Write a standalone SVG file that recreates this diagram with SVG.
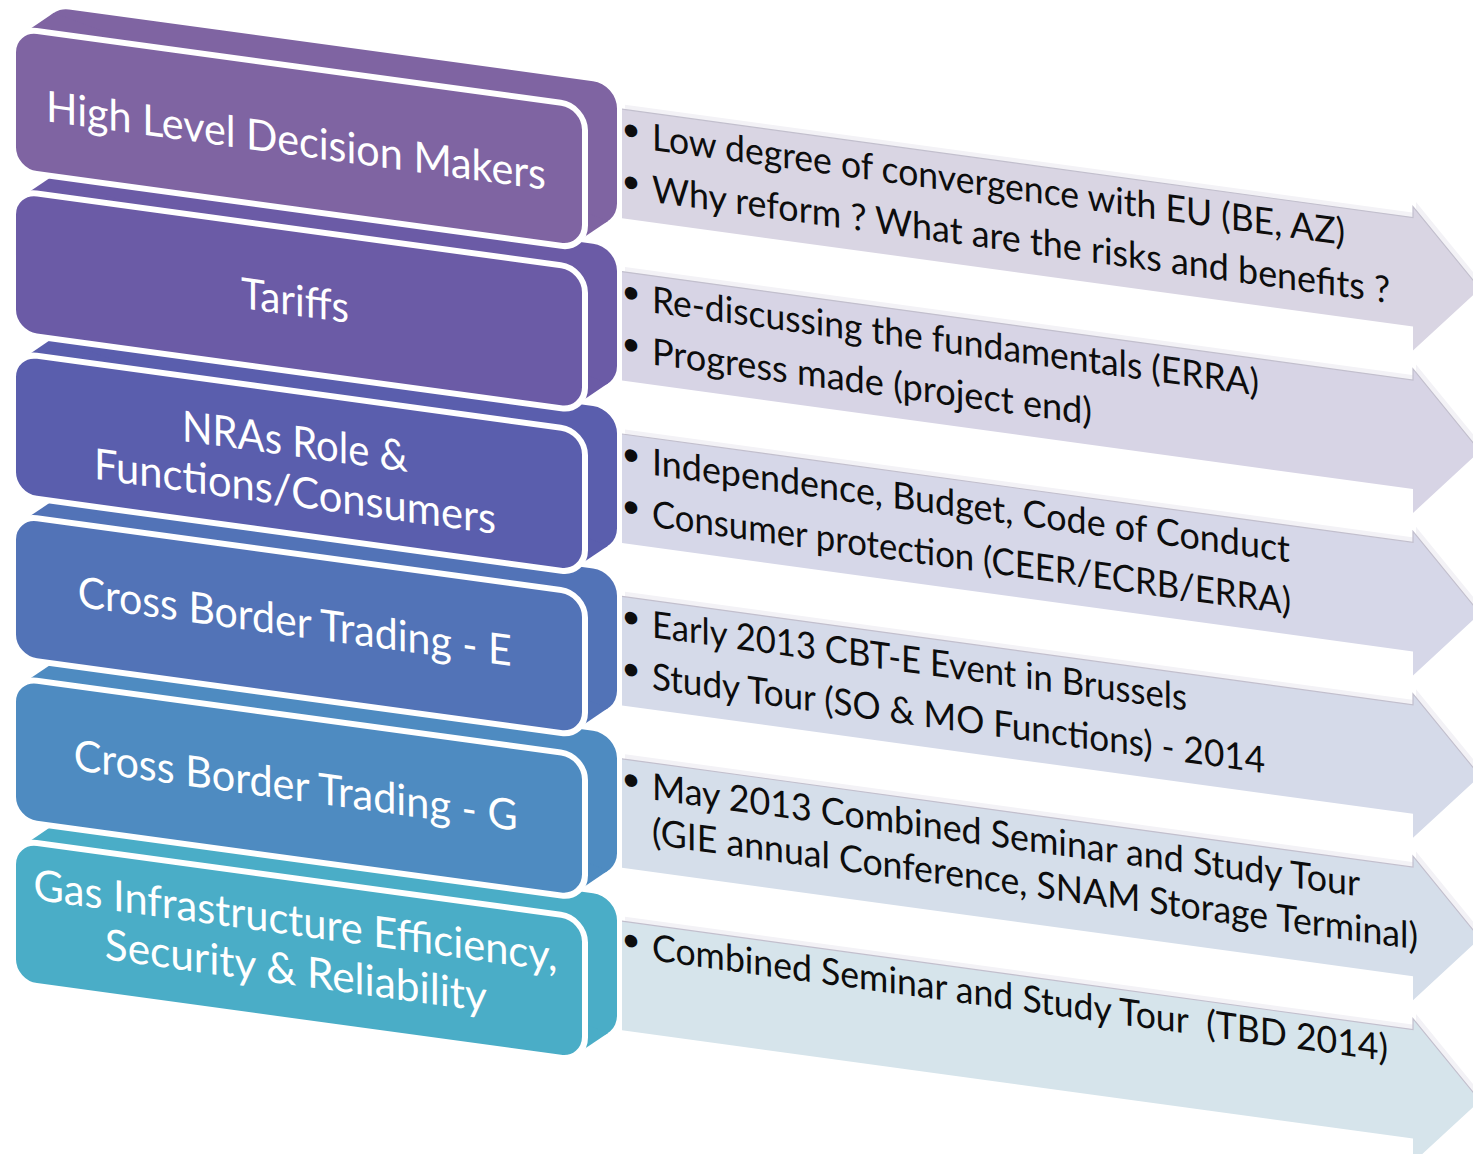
<svg xmlns="http://www.w3.org/2000/svg" xmlns:xlink="http://www.w3.org/1999/xlink" width="1473" height="1154" viewBox="0 0 1473 1154">
<style>
.bt{font-family:Lato,"Open Sans","Liberation Sans",sans-serif;font-size:43px;fill:#ffffff;text-anchor:middle}
.at{font-family:Lato,"Open Sans","Liberation Sans",sans-serif;font-size:37px;fill:#0d0d0d}
.bu{font-family:"Liberation Sans",Arial,sans-serif;font-size:46px;fill:#0d0d0d;text-anchor:middle}
.ff{stroke:#ffffff;stroke-width:6}
.hl{fill:#F3F2F6}
.edge{fill:none;stroke:#C2BFCD;stroke-width:1.2}
.c1{fill:#7F64A2}.c2{fill:#6B5BA6}.c3{fill:#5A5EAD}.c4{fill:#5273B7}.c5{fill:#4E8BC1}.c6{fill:#4AADC7}
.a1{fill:#D9D5E3}.a2{fill:#D7D4E5}.a3{fill:#D6D7E8}.a4{fill:#D5DAE9}.a5{fill:#D5DEEA}.a6{fill:#D6E4EB}
</style>
<defs>
<path id="arr" d="M622,24 H1413 V13 L1480,86 L1413,157 V133 H622Z"/>
<path id="arrEdge" d="M622,24 H1413 V13 L1480,86"/>
</defs>
<rect x="0" y="0" width="1473" height="1154" fill="#ffffff"/>
<g transform="matrix(1,0.137,0,1,0,0)">
  <g id="arrow1">
    <use xlink:href="#arr" class="hl" transform="translate(3,-5)"/>
    <use xlink:href="#arr" class="a1"/>
    <use xlink:href="#arrEdge" class="edge"/>
    <text class="bu" x="631" y="59.7">•</text>
    <text class="at" x="652" y="60.7" textLength="693" lengthAdjust="spacingAndGlyphs">Low degree of convergence with EU (BE, AZ)</text>
    <text class="bu" x="631" y="111.7">•</text>
    <text class="at" x="652" y="112.7" textLength="738" lengthAdjust="spacingAndGlyphs">Why reform ? What are the risks and benefits ?</text>
  </g>
  <g id="arrow2">
    <use xlink:href="#arr" class="hl" transform="translate(3,157.4)"/>
    <use xlink:href="#arr" class="a2" transform="translate(0,162.4)"/>
    <use xlink:href="#arrEdge" class="edge" transform="translate(0,162.4)"/>
    <text class="bu" x="631" y="222.1">•</text>
    <text class="at" x="652" y="223.1" textLength="607" lengthAdjust="spacingAndGlyphs">Re-discussing the fundamentals (ERRA)</text>
    <text class="bu" x="631" y="274.1">•</text>
    <text class="at" x="652" y="275.1" textLength="440" lengthAdjust="spacingAndGlyphs">Progress made (project end)</text>
  </g>
  <g id="arrow3">
    <use xlink:href="#arr" class="hl" transform="translate(3,319.8)"/>
    <use xlink:href="#arr" class="a3" transform="translate(0,324.8)"/>
    <use xlink:href="#arrEdge" class="edge" transform="translate(0,324.8)"/>
    <text class="bu" x="631" y="384.5">•</text>
    <text class="at" x="652" y="385.5" textLength="638" lengthAdjust="spacingAndGlyphs">Independence, Budget, Code of Conduct</text>
    <text class="bu" x="631" y="436.5">•</text>
    <text class="at" x="652" y="437.5" textLength="639" lengthAdjust="spacingAndGlyphs">Consumer protection (CEER/ECRB/ERRA)</text>
  </g>
  <g id="arrow4">
    <use xlink:href="#arr" class="hl" transform="translate(3,482.2)"/>
    <use xlink:href="#arr" class="a4" transform="translate(0,487.2)"/>
    <use xlink:href="#arrEdge" class="edge" transform="translate(0,487.2)"/>
    <text class="bu" x="631" y="546.9">•</text>
    <text class="at" x="652" y="547.9" textLength="535" lengthAdjust="spacingAndGlyphs">Early 2013 CBT-E Event in Brussels</text>
    <text class="bu" x="631" y="598.9">•</text>
    <text class="at" x="652" y="599.9" textLength="613" lengthAdjust="spacingAndGlyphs">Study Tour (SO &amp; MO Functions) - 2014</text>
  </g>
  <g id="arrow5">
    <use xlink:href="#arr" class="hl" transform="translate(3,644.6)"/>
    <use xlink:href="#arr" class="a5" transform="translate(0,649.6)"/>
    <use xlink:href="#arrEdge" class="edge" transform="translate(0,649.6)"/>
    <text class="bu" x="631" y="709.3">•</text>
    <text class="at" x="652" y="710.3" textLength="708" lengthAdjust="spacingAndGlyphs">May 2013 Combined Seminar and Study Tour</text>
    <text class="at" x="652" y="755.3" textLength="766" lengthAdjust="spacingAndGlyphs">(GIE annual Conference, SNAM Storage Terminal)</text>
  </g>
  <g id="arrow6">
    <use xlink:href="#arr" class="hl" transform="translate(3,807)"/>
    <use xlink:href="#arr" class="a6" transform="translate(0,812)"/>
    <use xlink:href="#arrEdge" class="edge" transform="translate(0,812)"/>
    <text class="bu" x="631" y="870">•</text>
    <text class="at" x="652" y="871" textLength="736" lengthAdjust="spacingAndGlyphs" xml:space="preserve">Combined Seminar and Study Tour  (TBD 2014)</text>
  </g>

  <g id="block6" class="c6">
    <rect x="45" y="812" width="572" height="143" rx="24"/>
    <polygon points="21.9,843.4 53.9,817.4 608.1,949.6 576.1,975.6"/>
    <rect class="ff" x="13" y="838" width="572" height="143" rx="24"/>
    <text class="bt" x="295.5" y="895" textLength="524" lengthAdjust="spacingAndGlyphs">Gas Infrastructure Efficiency,</text>
    <text class="bt" x="295.8" y="945" textLength="382" lengthAdjust="spacingAndGlyphs">Security &amp; Reliability</text>
  </g>
  <g id="block5" class="c5">
    <rect x="45" y="649.6" width="572" height="143" rx="24"/>
    <polygon points="21.9,681 53.9,655 608.1,787.2 576.1,813.2"/>
    <rect class="ff" x="13" y="675.6" width="572" height="143" rx="24"/>
    <text class="bt" x="295.7" y="760" textLength="444" lengthAdjust="spacingAndGlyphs">Cross Border Trading - G</text>
  </g>
  <g id="block4" class="c4">
    <rect x="45" y="487.2" width="572" height="143" rx="24"/>
    <polygon points="21.9,518.6 53.9,492.6 608.1,624.8 576.1,650.8"/>
    <rect class="ff" x="13" y="513.2" width="572" height="143" rx="24"/>
    <text class="bt" x="294.7" y="596" textLength="434" lengthAdjust="spacingAndGlyphs">Cross Border Trading - E</text>
  </g>
  <g id="block3" class="c3">
    <rect x="45" y="324.8" width="572" height="143" rx="24"/>
    <polygon points="21.9,356.2 53.9,330.2 608.1,462.4 576.1,488.4"/>
    <rect class="ff" x="13" y="350.8" width="572" height="143" rx="24"/>
    <text class="bt" x="295" y="416" textLength="226" lengthAdjust="spacingAndGlyphs">NRAs Role &amp;</text>
    <text class="bt" x="295" y="466" textLength="402" lengthAdjust="spacingAndGlyphs">Functions/Consumers</text>
  </g>
  <g id="block2" class="c2">
    <rect x="45" y="162.4" width="572" height="143" rx="24"/>
    <polygon points="21.9,193.8 53.9,167.8 608.1,300 576.1,326"/>
    <rect class="ff" x="13" y="188.4" width="572" height="143" rx="24"/>
    <text class="bt" x="295" y="275" textLength="108" lengthAdjust="spacingAndGlyphs">Tariffs</text>
  </g>
  <g id="block1" class="c1">
    <rect x="45" y="0" width="572" height="143" rx="24"/>
    <polygon points="21.9,31.4 53.9,5.4 608.1,137.6 576.1,163.6"/>
    <rect class="ff" x="13" y="26" width="572" height="143" rx="24"/>
    <text class="bt" x="296" y="115" textLength="500" lengthAdjust="spacingAndGlyphs">High Level Decision Makers</text>
  </g>
</g>
</svg>
